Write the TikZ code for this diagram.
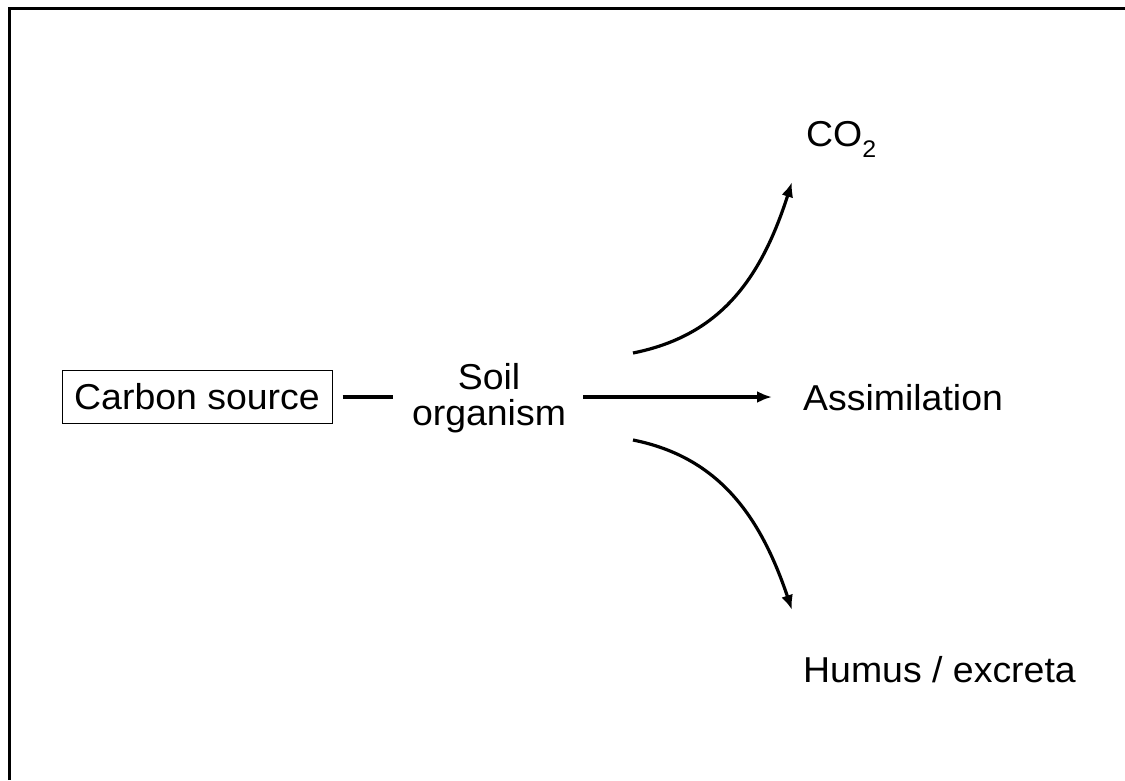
\documentclass[tikz,border=0pt]{standalone}
\usepackage{fontspec}
\setmainfont{Liberation Sans}[FakeStretch=1.04]
\usetikzlibrary{arrows.meta}
\newcommand{\lowsub}[1]{\raisebox{-0.32em}{\fontsize{24}{24}\selectfont #1}}
\begin{document}
\begin{tikzpicture}[x=1pt,y=-1pt,
  label/.style={font=\fontsize{36}{36}\selectfont, inner sep=0pt},
  flow/.style={line width=3.2pt, -{Latex[length=15pt,width=12pt]}},
  link/.style={line width=3.2pt}]
  \useasboundingbox (0,0) rectangle (1125,780);
  % open frame: left and top edges only
  \draw[line width=3pt] (9,780) -- (9,8) -- (1125,8);

  \node[label, draw, line width=1pt, minimum width=270pt, minimum height=53pt]
    (carbon) at (197,396.5) {Carbon source};
  \node[label, align=center] (soil) at (489,398) {Soil\\organism};
  \node[label, anchor=base west] (co2) at (806,146) {CO\lowsub{2}};
  \node[label, anchor=base west] (assim) at (803,410) {Assimilation};
  \node[label, anchor=base west] (humus) at (803,682) {Humus / excreta};

  \coordinate (upS) at (633,353);
  \coordinate (upE) at (792,182);
  \coordinate (dnS) at (633,440);
  \coordinate (dnE) at (792,610);

  \draw[link] ([xshift=10pt]carbon.east |- 0,397) -- (393,397);
  \draw[flow] (583,397) -- ([xshift=-31pt]assim.west |- 0,397);
  \draw[flow] (upS) .. controls (718,336) and (760,282) .. (upE);
  \draw[flow] (dnS) .. controls (718,457) and (760,515) .. (dnE);
\end{tikzpicture}
\end{document}
